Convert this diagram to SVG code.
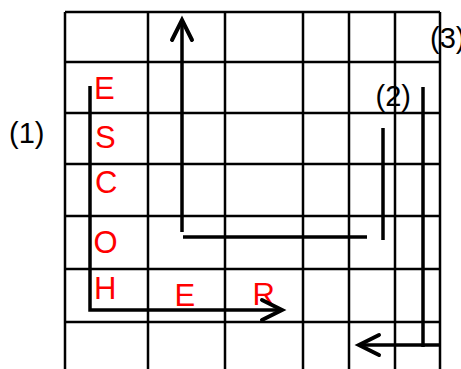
<svg xmlns="http://www.w3.org/2000/svg" width="461" height="369" viewBox="0 0 461 369">
  <style>
    .lbl { font-family: "Liberation Sans", Arial, sans-serif; font-size: 29px; fill: #000; }
    .let { font-family: "Liberation Sans", Arial, sans-serif; font-size: 31px; fill: #ff0000; }
    .grid { stroke: #000; stroke-width: 2.5; fill: none; }
    .arr { stroke: #000; stroke-width: 3.5; fill: none; }
  </style>
  <defs>
    <marker id="head" markerUnits="userSpaceOnUse" markerWidth="30" markerHeight="30" viewBox="-4 -4 30 30" refX="20" refY="10" orient="auto" overflow="visible">
      <path d="M0,0 L20,10 L0,20" fill="none" stroke="#000" stroke-width="4" stroke-linecap="round"/>
    </marker>
  </defs>
  <rect width="461" height="369" fill="#fff"/>
  <g id="labels">
    <text class="lbl" x="9" y="143">(1)</text>
    <text class="lbl" x="375.5" y="106">(2)</text>
    <text class="lbl" x="430" y="48">(3)</text>
  </g>
  <g id="grid" class="grid">
    <path d="M65,12 V369 M148,12 V369 M225,12 V369 M303,12 V369 M349,12 V369 M395,12 V369 M440,12 V369"/>
    <path d="M65,12 H440 M65,62 H440 M65,113 H440 M65,164 H440 M65,216 H440 M65,269 H440 M65,322 H440"/>
  </g>
  <g id="letters">
    <text class="let" x="94" y="99">E</text>
    <text class="let" x="95" y="148">S</text>
    <text class="let" x="95" y="193">C</text>
    <text class="let" x="93.5" y="253">O</text>
    <text class="let" x="94" y="299">H</text>
    <text class="let" x="174.5" y="306">E</text>
    <text class="let" x="252.5" y="305">R</text>
  </g>
  <g id="connectors" class="arr">
    <path d="M90,86 V310 H282" marker-end="url(#head)"/>
    <path d="M182,232 V20" marker-end="url(#head)"/>
    <path d="M183,237 H367"/>
    <path d="M383,128 V240"/>
    <path d="M423,87 V347"/>
    <path d="M440,345 H359" marker-end="url(#head)"/>
  </g>
</svg>
